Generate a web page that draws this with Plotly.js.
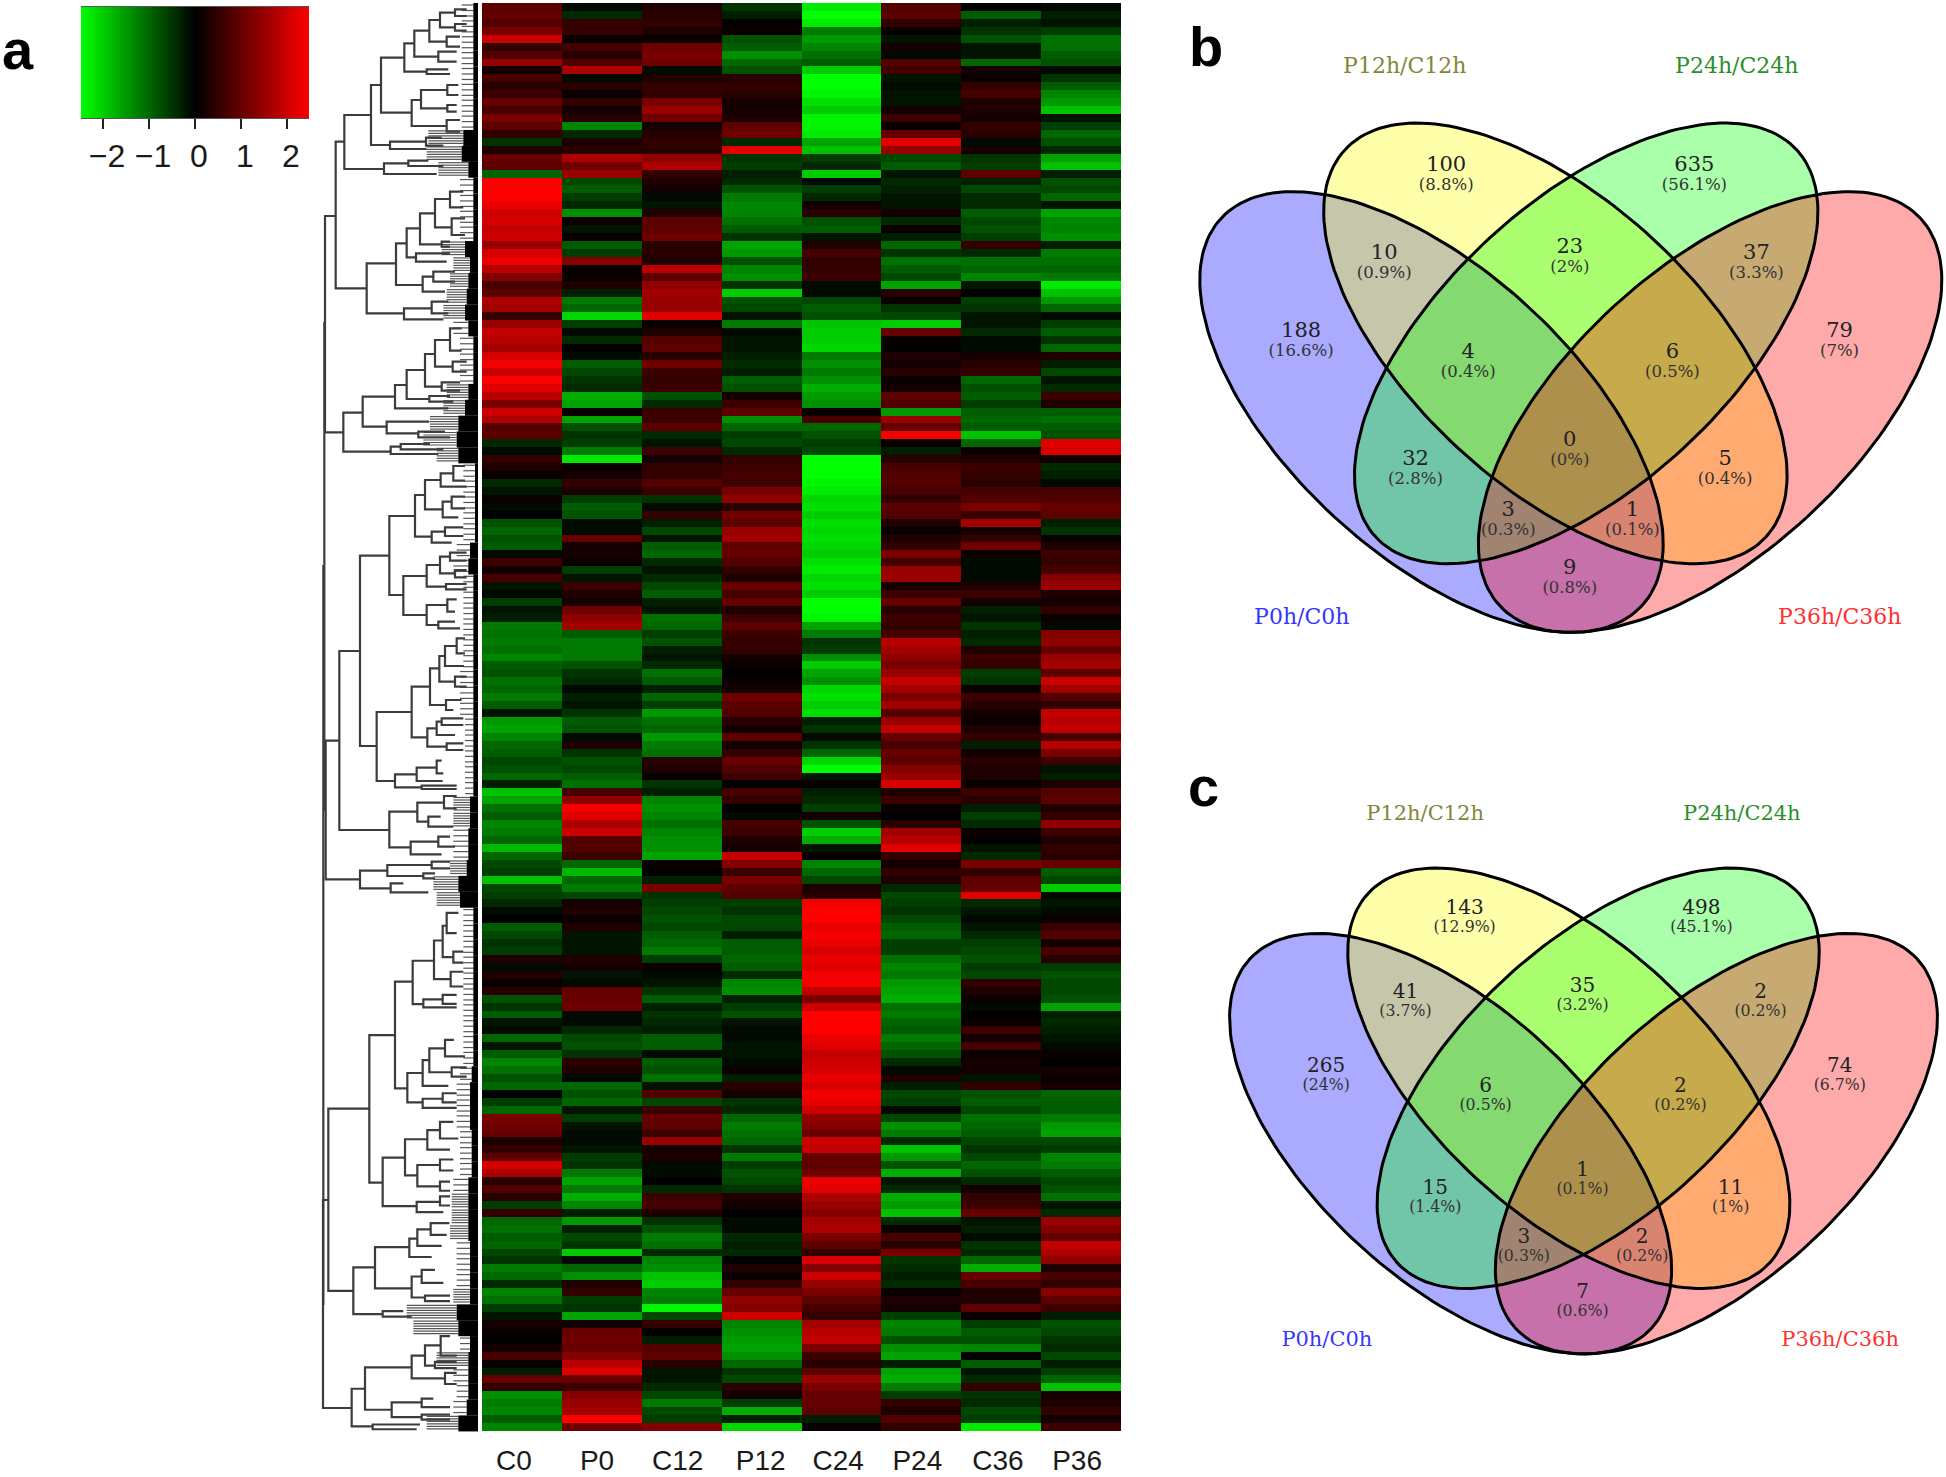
<!DOCTYPE html>
<html><head><meta charset="utf-8">
<script src="https://cdn.plot.ly/plotly-3.0.1.min.js"></script>
<style>html,body{margin:0;padding:0;background:#fff}</style></head>
<body><div id="g" style="width:1946px;height:1477px"></div>
<script>
const samples=['C0','P0','C12','P12','C24','P24','C36','P36'];
const labelNudge=[-.1,-.06,-.05,-.01,-.04,-.05,-.04,-.05];
const C0=[.9,1,.8,1.2,2,.5,.8,1.5,.2,.7,.4,.6,1,.7,1.2,.9,.5,-.5,.3,1,.9,-1,2.5,2.5,2.5,2.3,2,2.1,1.9,2,1.5,2.1,2.3,1.8,1.3,.7,.9,1.7,1.6,.5,1.5,1.9,1.8,1.6,2.1,2.4,2,2.5,2.2,1.8,1.2,2,1.7,.8,.9,-.4,-.1,.5,.3,.1,-.4,-.2,.1,-.1,0,-.8,-1,-.8,-.9,-.1,.6,.2,.7,-.2,-.1,-.6,-.2,-.3,-1.2,-1.1,-1.2,-1.1,-1.3,-.9,-.8,-1.1,-1,-1.2,-.9,-.2,-1.5,-1.6,-1.3,
-1,-.9,-.7,-.8,-1,-.3,-1.9,-1.6,-1.1,-.9,-1.3,-1.2,-1,-1.8,-1,-.7,-.6,-1.9,-.7,-.6,-.4,-.1,0,-.9,-.7,-.5,-.6,.3,-.1,.3,.1,.4,-.8,-.5,-.9,-.2,-.1,-1,-.2,-.9,-1.3,-1.1,-.8,-1,0,-.6,-1,1.2,1.1,1,.3,.5,.9,2.1,1.7,.4,.8,.4,-.6,.5,-1,-1.1,-.9,-1,-.7,-.5,-1.2,-1,-.4,-1.3,-1.1,-.6,-.2,.2,.1,0,.2,.7,.1,-.3,1,.5,-1.4,-1.2,-1.3,-.9,-1.3];
const P0=[-.1,-.4,.5,.5,.1,.7,.4,.8,1.7,-.1,.4,.1,.5,.2,.4,-1.3,-.4,.3,.4,1.7,1.1,1.5,-.7,-.9,-.6,-.4,-1.4,.1,-.2,.1,-.9,-.6,1.3,.1,.1,.3,-.3,-1.2,-1,-2.1,-.6,-.1,-.4,0,-.1,-.9,-.7,-.5,-.4,-1.7,-1.6,.1,-1.6,-.8,-.5,-.6,-1.2,-2.3,.1,.2,.5,.3,-.6,-.9,-.8,-.1,-.1,1,.2,.2,.1,-.6,-.2,.6,.3,.2,1.1,1.4,1.6,-.9,-1.2,-1.2,-1.2,-.8,-.5,-.4,-.1,-.3,-.2,-.5,-.9,-.8,-.1,
.3,-.5,-.8,-.7,-.9,-1.1,.7,1.4,2.4,2.2,1.7,2,.8,.8,.6,-1,-1.8,-1,-1.2,-.7,.2,.3,.1,.3,-.2,-.2,-.2,.3,.2,-.2,-.1,1,1,1.1,-.1,-.1,-.4,-.7,-.8,-.5,.4,.3,-.1,-1,-.8,-1,-.2,-.6,-.2,-.1,-.1,-.2,-.6,-.5,-1.2,-1.6,-1.2,-1.7,-1.3,-.3,-1.5,-.3,-.7,-.5,-2,-.1,-1,-1.4,.3,.5,-.6,-.5,-1.6,.2,1,1.1,1,1.3,1.8,2.2,1,.6,1.3,1.5,1.6,2.5,1.1];
const C12=[.3,.4,.5,.3,.1,1.1,1.2,1.1,-.1,.3,.5,.5,1.2,1.5,1.1,.2,.4,.5,.4,1.4,1.7,.5,.3,.2,-.1,-.2,.3,.9,.9,1.1,.4,.4,.3,1.8,.9,1.4,1.6,1.5,1.5,2.2,.1,.3,.8,.9,.4,1.1,.6,.5,.6,-.8,-.4,.6,.6,.9,-.4,-.2,.6,.2,.5,.5,.8,.6,-.5,-.1,.5,-.3,-.7,-.2,-.9,-1,-.4,-.2,-.4,-.7,-.9,-.3,-.2,-1.1,-1,-.6,-.8,-.3,-.2,-.4,-1.1,-.9,-.3,-1,-.6,-1.5,-1.1,-1,-1.5,
-1.2,-1.1,.4,.3,.1,-.5,-.3,-1.3,-1.4,-1.3,-1.1,-1.3,-1.4,-1.4,-1.6,.1,0,-.3,1.2,-.5,-.6,-.7,-.8,-.7,-.9,-1,-1.2,-.6,.1,-.1,-.2,-.5,-.9,-.3,-.5,-.4,-.3,-.9,-.9,-.1,-.9,-.8,-1.1,-.2,.8,-.7,.6,1,.9,.6,1.5,.2,.3,-.1,-.1,0,-.4,.6,.7,.3,-.5,-.8,-1.2,-1.1,-.4,-1.3,-1.4,-1.9,-2,-1.3,-1.2,-2.4,-.7,.5,0,-.3,.8,.9,.4,-.2,-.2,-.4,-.7,-1.2,-.7,-.6,1.3];
const P12=[-.5,-.3,0,.1,-.8,-.9,-1.4,-1,-.8,.4,.5,.4,.2,.2,.3,.9,1.1,-.4,2.2,-.5,-.6,-.3,-.4,-.8,-1.2,-1.3,-1.3,-1.1,-.9,-.5,-1.6,-1.5,-.8,-1.3,-1.4,-.5,-2,-.8,-.7,-.2,-1.2,-.1,-.2,-.2,-.3,-.4,-.3,-.9,-.8,.2,.6,.9,-1.4,-1,-.6,-.7,-.4,.5,.6,.7,.6,1.2,1.4,.4,1.1,.9,1.5,1.6,.9,1,.8,.5,.3,1,.7,1,.3,.6,.9,.6,.5,.5,.2,.1,0,.1,.2,1.1,.9,.8,.4,.2,.9,
.2,.5,1,.8,.6,0,.7,.5,0,-.1,.7,.6,.3,.2,1.9,1.3,.6,1.2,.9,.8,-.6,-.5,-.7,-.7,-.3,-.9,-.9,-1,-.9,-.4,-1.3,-1.4,-.3,-.6,-.8,-.2,-.1,-.1,-.2,-.2,-.1,.1,-.3,.4,.2,-.5,-.4,-1,-1.2,-1.1,-1,-.5,-1.2,-.6,-.8,-.7,-.5,.3,.2,0,-.1,-.1,-.4,-.3,-.4,0,.3,.1,.5,1,1.4,1.3,2,-1.3,-1.4,-1.5,-1.6,-1.4,-1,-.5,-.7,.4,.2,-.6,-1.7,-.3,-2.1];
const C24=[-2.3,-2.5,-2.3,-1.2,-1.5,-1.3,-1.1,-.9,-2,-2.5,-2.5,-2.4,-2.2,-2,-2.4,-2.4,-2.3,-1.6,-1.9,-.6,-.4,-2,-.1,-.6,-.4,.2,.4,-.8,-.9,-.2,.3,.7,.5,.5,.6,-.1,-.1,-.7,-.9,-.8,-1.9,-2,-2,-2.1,-1.2,-1.4,-1.2,-1.4,-1.7,-1.5,-1.4,.1,.7,-1,-.8,-.6,-.7,-2.5,-2.5,-2.5,-2.4,-2.3,-2.1,-2.2,-2,-2.2,-2.1,-2.2,-2.1,-2,-2.2,-2.3,-2.1,-2.2,-2,-2.5,-2.5,-2.4,-1.6,-1.2,-.5,-.6,-1.4,-2,-1.6,-1.4,-2.1,-2.2,-2,-2.2,-.3,-.5,-.1,
-.5,-1,-2.1,-2.5,-.2,.1,-.3,-.4,-.6,.2,-.8,-2,-1.7,-.2,.1,-1.3,-1,-.7,.3,.4,2.4,2.5,2.5,2.3,2.4,2.3,2.1,2.3,2.2,2.4,2.4,1.9,1.2,2,2.5,2.5,2.5,2.3,2.2,1.9,2,2.1,2.3,2.1,2.4,2.3,2,1.4,1.3,1,2,1.9,1,.9,1.1,2.3,2.2,1.7,1.5,1.3,1.6,1.7,1.2,.9,.5,2.1,1.3,2,1.5,1.2,.9,.7,.5,1.6,1.8,1.9,1.2,.6,.4,.9,1.5,1.2,1,1,.9,-.3,.1];
const P24=[.8,.9,.5,.1,-.2,.2,-.1,.8,.7,-.2,-.1,-.2,-.2,.2,.6,.1,1,2.2,1.5,-.7,-.9,-.2,-.4,-.3,-.2,-.2,.2,-.4,.1,-.3,-1,-.5,-1.1,-.9,-.7,-1.6,.4,.1,-.5,-.7,-2,1,.1,0,.3,.2,.4,.1,.2,.9,.8,-1.5,1.5,1,2.4,.1,-.3,.4,.7,.8,.8,.7,.5,.9,.8,.3,.1,.3,.5,1.2,.7,1.5,1.5,.2,.6,1,.4,.6,.5,.7,1.8,1.6,1.4,1.2,1.5,1.9,1.6,1.2,1.6,.8,1.5,1.9,1,
.7,1,.9,1.3,1.5,2.1,.3,.6,.1,0,.4,1.6,1.8,2.2,.5,.2,.5,.3,-.4,-.7,-.6,-.5,-.7,-.9,-1,-.6,-.6,-1.1,-1.3,-1.2,-1.5,-1.6,-1.7,-1.1,-1.2,-1,-.9,-1.2,-1,-.8,-.4,-.1,.3,-.3,-.7,-.6,-.1,-.7,-1.4,-1.2,-.4,-1.9,-1.5,-.8,-1.7,-.2,-.4,-1.7,-1.5,-1.9,-.4,.1,.7,.4,1.2,-.5,-.4,-.3,-.4,.1,.3,.2,-.6,-1.3,-1.2,-.8,-1.4,-1.6,-.3,-1.6,-1.7,-1.2,-.6,.5,.3,.8,.5];
const C36=[0,-.9,-.3,-.5,-.8,-.2,-.2,-1,.2,.1,.5,.7,.3,.3,.2,.5,.4,-.1,.2,-.5,-.6,.9,-.3,-.7,-.4,-.4,-.9,-.7,-.8,-.6,.5,-.4,-1.1,-1,-1.3,-.2,0,-.6,-.5,-.2,-.2,-.4,-.1,-.1,.2,.4,.5,-1,-.8,-.9,-.6,-.9,-1,-.9,-1.9,-1,.1,.3,.6,.5,.4,.7,.8,1.2,.6,1.6,.2,.5,1.1,.1,-.1,-.1,-.1,.3,.6,.2,-.3,-.2,-.5,-.3,-.4,.3,.6,.5,-.6,-.5,.1,.6,.4,.2,.1,.3,.5,
-.3,.2,.4,.3,.3,.1,.6,.4,-.3,-.6,-.4,.1,0,-.2,-.4,1.2,.5,.9,1,2.2,-.4,-.2,-.1,-.2,-.4,-.6,-.7,-.8,-.6,-.7,.5,.3,.1,-.1,0,.1,.6,.2,.7,.1,.2,.2,-.2,.5,-.8,-.9,-.7,-1.1,-1,-.9,-.7,-.5,-.7,-1,-.8,-.4,.2,.5,.6,1,-.2,-.3,-.1,-.5,-.4,-1,-1.7,1,.7,.3,.3,.9,.1,-.6,-.9,-.8,-1.3,0,-.9,-.2,-.4,.5,-.5,-.4,-.7,-.6,-2.3];
const P36=[-.1,-.3,-.2,-.6,-1.1,-1.1,-.9,-.8,-.1,-.5,-.9,-1.3,-1.5,-1.9,-.2,-.6,-1,-.8,-.4,-1.6,-1.9,-.3,-.8,-.7,-1,-.2,-1.6,-1.3,-1.3,-1.4,-.3,-1.2,-1.1,-1,-1.2,-2.3,-1.9,-1.5,-1,-.1,-.6,-.9,-.5,-1,.3,-.3,-.7,-.2,-.4,.6,.3,-.9,-1.1,-.9,-.8,2.2,2.1,.2,-.4,-.3,-.1,.7,.8,1,.9,-.3,-.5,.1,.3,.6,.5,.7,1.3,1.5,.3,.2,.5,.1,-.1,1.3,1.4,1,1.5,1.6,.9,2,1.6,.8,.5,1.9,1.8,1.9,.7,
1.8,1.2,.6,-.2,-.3,.3,.8,.9,.3,.5,1.4,.6,.3,.5,.4,1,-.9,-.7,-2,-.1,-.2,-.1,.1,.6,.8,.2,.7,.4,-.6,-.8,-.7,-.7,-.8,-1.6,-.3,-.4,-.3,-.2,-.1,.1,0,.2,.1,.2,-1,-.9,-.9,-1.2,-1.5,-1.6,-.7,-.6,-1.3,-1.2,-.9,-.7,-.8,-1.1,-.2,-.4,1.5,1.3,1,1.9,1.7,1.4,.3,.7,.5,1.3,.9,.6,-.3,-.8,-.7,-.5,-.4,-.7,-.3,-.6,-1,-1.9,.2,.3,.5,.2,.6];
const keyValues=[-2.48,-2.33,-2.18,-2.03,-1.88,-1.73,-1.58,-1.43,-1.28,-1.13,-.98,-.83,-.68,-.53,-.38,-.23,-.08,.08,.23,.38,.53,.68,.83,.98,1.13,1.28,1.43,1.58,1.73,1.88,2.03,2.18,2.33,2.48];
const keyTicks=[-2,-1,0,1,2];

// dendrogram merges: [height, yTop, yBottom, childHeightTop, childHeightBottom]
const branchesTop=[[45,648,1297,77,100],[77,425,865,103,170],[103,345,507,183,222],[183,255,435,213,240],[213,173,338,283,305],[283,130,215,313,350],[313,92,170,358,385],[358,60,125,390,410],[390,38,82,435,435],[435,28,48,470,470],[435,72,92,470,470],[410,110,140,450,450],[385,155,185,440,440],[350,208,222,415,420],[305,300,378,333,410],[333,270,325,412,412],[412,255,285,445,445],[412,315,335,440,440],[410,360,395,450,450],[240,425,447,348,350],[348,413,437,395,400],[222,490,522,295,380],[295,482,498,355,400],
[170,790,940,258,282],[258,730,855,290,338],[290,685,772,330,318],[330,640,733,375,395],[375,597,682,420,425],[420,575,622,460,460],[425,655,705,465,465],[395,725,740,420,420],[318,760,785,420,410],[338,830,875,370,405],[370,815,845,435,435],[282,925,958,365,400],[365,905,940,415,415],
[100,1238,1355,158,242],[158,1190,1280,255,230],[255,1155,1225,290,415],[290,1110,1197,345,358],[345,1062,1160,375,395],[375,1020,1100,420,428],[420,985,1052,455,455],[428,1085,1115,470,470],[395,1147,1172,450,450],[358,1188,1205,420,430],[230,1265,1300,358,325],[325,1295,1312,405,420],[242,1340,1362,272,385],[272,1332,1348,360,400]];
const branchesMid=[[47,902,1318,88,150],[88,633,1170,150,238],[150,347,918,238,200],[238,228,465,315,280],[315,165,290,345,365],[345,120,208,392,398],[392,100,140,430,470],[430,78,122,465,465],[398,185,232,425,445],[425,170,205,465,465],[365,275,308,405,425],[405,262,288,460,460],[280,408,525,350,350],[350,375,440,390,408],[390,350,400,420,435],[420,338,362,470,470],[435,390,412,470,470],[408,432,448,470,470],[350,495,555,412,385],[412,478,515,440,435],[385,545,565,435,450],
[200,816,1023,305,255],[305,740,892,360,352],[360,685,795,388,408],[388,648,725,405,435],[405,618,678,440,462],[440,595,640,465,465],[435,710,740,470,470],[408,780,810,455,430],[352,865,920,380,410],[380,845,885,395,435],[395,835,855,460,460],[410,910,930,460,460],[255,1003,1042,320,335],[320,983,1023,380,398],[380,962,1000,395,400],[335,1037,1047,440,440],
[238,1115,1222,322,302],[322,1088,1145,402,355],[402,1068,1105,440,440],[355,1130,1160,392,430],[302,1205,1243,385,395],[385,1190,1220,420,435],[150,1292,1345,232,242],[232,1275,1308,365,340],[365,1265,1285,420,420],[340,1300,1315,375,375],[242,1330,1357,280,355]];
const branchesLow=[[55,567,1062,178,130],[178,367,768,255,218],[255,222,512,308,292],[308,165,283,372,340],[372,110,215,398,422],[398,70,155,410,430],[410,35,90,445,440],[422,195,235,460,460],[430,140,170,460,460],[340,270,292,398,440],[398,258,282,440,440],[292,470,550,338,338],[338,435,505,358,415],[358,403,468,405,425],[405,380,425,432,465],[425,455,480,470,470],[338,540,565,398,440],[398,525,550,440,440],
[218,700,832,285,320],[285,650,748,352,322],[352,625,678,390,420],[390,603,648,430,445],[322,720,778,390,390],[390,705,735,430,430],[390,765,790,420,420],[320,820,848,390,400],[390,805,830,420,420],
[130,998,1125,195,218],[195,943,1055,298,305],[298,920,970,322,365],[322,895,940,362,395],[362,878,910,418,410],[305,1023,1080,335,345],[335,1005,1040,375,400],[345,1075,1090,420,420],[218,1117,1132,280,305],
[125,1328,1430,165,188],[165,1270,1385,305,245],[305,1238,1300,345,405],[345,1210,1265,392,375],[392,1185,1238,420,440],[375,1255,1272,440,440],[405,1285,1315,440,440],[245,1365,1405,335,335],[335,1355,1378,370,420],[335,1398,1412,420,420],[188,1425,1438,330,320]];
const branchesRoot=[[43,323,810,45,47],[39,1200,1408,55,125],[40,566,1304,43,39]];
const leafSolidStart=[490,490,490,490,490,490,490,490,460,455,475,490,490,490,490,465,480,475,470,465,475,490,490,490,475,465,445,440,445,495,495,495,495,495,480,475,490,490,490,490,490,490,490,490,490,490,490,490,490,490,480,480,475,475,470,445,450,490,490,490,490,490,490,490,490,490,490,485,480,480,480,485,485,485,475,475,475,475,480,480,480,480,440,445,480,475,475,475,470,445];
const leafHatchStart=[455,455,455,455,455,455,455,455,355,350,385,450,450,450,450,395,430,420,410,400,430,450,450,450,410,400,360,340,380,460,460,460,460,460,440,430,460,460,460,460,460,460,450,450,450,465,465,465,465,465,430,430,430,430,420,370,380,460,460,460,460,460,460,460,460,460,460,450,440,440,440,450,450,450,430,425,425,420,440,440,440,430,290,310,450,380,430,440,430,350];

// venn
const vennCenters=[[-139.3,289.6],[-15.4,221],[15.4,221],[139.3,289.6]];
const vennAngles=[42.6,42.6,-42.6,-42.6];
const vennAxes=[286,143];
const vennFill=['rgba(0,0,255,.333)','rgba(255,255,0,.333)','rgba(0,255,0,.333)','rgba(255,0,0,.333)'];
const setNames=['P0h/C0h','P12h/C12h','P24h/C24h','P36h/C36h'];
const setColors=['#3636ff','#85853a','#2a8f2a','#ff3030'];
const setU=[-269,-166,166,269],setV=[496,-55,-55,496];
const regionU=[-124.6,123.6,-186.6,-1,185.6,-269.7,268.7,-102.6,101.6,-1,-155.3,154.3,-62.5,61.6,-1];
const regionV=[43.6,43.6,131.5,125.7,131.5,209.5,209.5,230.3,230.3,318.3,337.3,337.3,388,388,446];
const countsB=['100','635','10','23','37','188','79','4','6','0','32','5','3','1','9'];
const pctB=['8.8%','56.1%','0.9%','2%','3.3%','16.6%','7%','0.4%','0.5%','0%','2.8%','0.4%','0.3%','0.1%','0.8%'];
const countsC=['143','498','41','35','2','265','74','6','2','1','15','11','3','2','7'];
const pctC=['12.9%','45.1%','3.7%','3.2%','0.2%','24%','6.7%','0.5%','0.2%','0.1%','1.4%','1%','0.3%','0.2%','0.6%'];

const W=1946,H=1477;
const dx=p=>[p[0]/W,p[1]/W], dy=(top,bot)=>[1-bot/H,1-top/H];
const cols=[C0,P0,C12,P12,C24,P24,C36,P36];
const z=[];for(let r=0;r<180;r++){z.push(cols.map(c=>c[r]));}
const greenBlackRed=[[0,'#00ff00'],[.5,'#000000'],[1,'#ff0000']];
const traces=[];
traces.push({type:'heatmap',z:z,x:samples.map((s,i)=>i),zmin:-2.5,zmax:2.5,colorscale:greenBlackRed,showscale:false,xaxis:'x',yaxis:'y',hoverinfo:'skip'});
traces.push({type:'heatmap',z:[keyValues],x:keyValues,zmin:-2.5,zmax:2.5,colorscale:greenBlackRed,showscale:false,zsmooth:'best',xaxis:'x2',yaxis:'y2',hoverinfo:'skip'});

// dendrogram through its own axes (x3,y3)
const hx=X=>310+X/3;
const lx=[],ly=[];
const addBranches=(list,toY)=>list.forEach(b=>{const [h,a,c,ha,hc]=b;
  lx.push(hx(ha),hx(h),hx(h),hx(hc),null);ly.push(toY(a),toY(a),toY(c),toY(c),null);});
addBranches(branchesTop,Y=>Y/3);addBranches(branchesMid,Y=>440+Y/3);addBranches(branchesLow,Y=>900+Y/2.717);addBranches(branchesRoot,Y=>Y);
const hatchX=[],hatchY=[],solidX=[],solidY=[];
leafSolidStart.forEach((s,i)=>{const y=3+i*15.87;
  const offs=(s-leafHatchStart[i]>45)?[1,3.5,6,8.5,11,13.5]:[2,7.5,13];
  offs.forEach(o=>{hatchX.push(hx(leafHatchStart[i]),hx(s),null);hatchY.push(y+o,y+o,null);});
  solidX.push(hx(s),478,null);solidY.push(y+8,y+8,null);});
traces.push({type:'scatter',mode:'lines',x:hatchX,y:hatchY,line:{color:'#555',width:1.2},xaxis:'x3',yaxis:'y3',hoverinfo:'skip',showlegend:false});
traces.push({type:'scatter',mode:'lines',x:lx,y:ly,line:{color:'#3c3c3c',width:2.2},xaxis:'x3',yaxis:'y3',hoverinfo:'skip',showlegend:false});
traces.push({type:'scatter',mode:'lines',x:solidX,y:solidY,line:{color:'#000',width:16},xaxis:'x3',yaxis:'y3',hoverinfo:'skip',showlegend:false});

function venn(xa,ya,counts,pct,scale){
  const outlines=[];
  vennCenters.forEach((c,k)=>{const th=vennAngles[k]*Math.PI/180,xs=[],ys=[];
    for(let t=0;t<=180;t++){const f=t/180*2*Math.PI,p=vennAxes[0]*Math.cos(f),q=vennAxes[1]*Math.sin(f);
      xs.push(c[0]+p*Math.cos(th)-q*Math.sin(th));ys.push(c[1]+p*Math.sin(th)+q*Math.cos(th));}
    traces.push({type:'scatter',mode:'lines',x:xs,y:ys,fill:'toself',fillcolor:vennFill[k],line:{color:'rgba(0,0,0,0)',width:0},xaxis:xa,yaxis:ya,hoverinfo:'skip',showlegend:false});
    outlines.push({type:'scatter',mode:'lines',x:xs,y:ys,line:{color:'#000',width:3},xaxis:xa,yaxis:ya,hoverinfo:'skip',showlegend:false});
  });
  outlines.forEach(o=>traces.push(o));
  traces.push({type:'scatter',mode:'text',x:regionU,y:regionV,text:counts,textposition:'middle center',textfont:{family:'DejaVu Serif',size:21*scale,color:'#222'},xaxis:xa,yaxis:ya,hoverinfo:'skip',showlegend:false});
  traces.push({type:'scatter',mode:'text',x:regionU,y:regionV.map(v=>v+20),text:pct.map(p=>'('+p+')'),textposition:'middle center',textfont:{family:'DejaVu Serif',size:16.5*scale,color:'#333'},xaxis:xa,yaxis:ya,hoverinfo:'skip',showlegend:false});
  traces.push({type:'scatter',mode:'text',x:setU,y:setV,text:setNames,textposition:'middle center',textfont:{family:'DejaVu Serif',size:22*scale,color:setColors},xaxis:xa,yaxis:ya,hoverinfo:'skip',showlegend:false});
}
venn('x4','y4',countsB,pctB,1);
venn('x5','y5',countsC,pctC,.954);

const layout={width:W,height:H,margin:{l:0,r:0,t:0,b:0},paper_bgcolor:'#fff',plot_bgcolor:'rgba(0,0,0,0)',showlegend:false,
 xaxis:{domain:dx([482,1121]),range:[-.5,7.5],tickmode:'array',tickvals:samples.map((s,i)=>i+labelNudge[i]),ticktext:samples,ticks:'outside',ticklen:4,tickcolor:'rgba(0,0,0,0)',showgrid:false,zeroline:false,tickfont:{family:'Liberation Sans',size:28,color:'#1a1a1a'},showline:false,anchor:'y'},
 yaxis:{domain:dy(3,1431),range:[179.5,-.5],visible:false,anchor:'x'},
 xaxis2:{domain:dx([81,309]),range:[-2.48,2.48],tickmode:'array',tickvals:keyTicks,ticks:'outside',ticklen:10,tickwidth:2,tickcolor:'#222',ticklabelshift:4,showgrid:false,zeroline:false,showline:true,linecolor:'#555',mirror:true,tickfont:{family:'Liberation Sans',size:32,color:'#1a1a1a'},anchor:'y2'},
 yaxis2:{domain:dy(7,118),range:[-.5,.5],visible:false,anchor:'x2'},
 xaxis3:{domain:dx([310,480]),range:[310,480],visible:false,anchor:'y3'},
 yaxis3:{domain:[0,1],range:[H,0],visible:false,anchor:'x3'},
 xaxis4:{domain:dx([1570.8-390,1570.8+375]),range:[-390,375],visible:false,anchor:'y4'},
 yaxis4:{domain:dy(122.4-100,122.4+540),range:[540,-100],visible:false,anchor:'x4'},
 xaxis5:{domain:dx([1583.5-385*.954,1583.5+380*.954]),range:[-385,380],visible:false,anchor:'y5'},
 yaxis5:{domain:dy(867.4-100*.954,867.4+540*.954),range:[540,-100],visible:false,anchor:'x5'},
 annotations:[['a',1,82],['b',1188,79],['c',1187,819]].map(a=>({text:'<b>'+a[0]+'</b>',xref:'paper',yref:'paper',x:a[1]/W,y:1-a[2]/H,xanchor:'left',yanchor:'bottom',showarrow:false,borderpad:0,font:{family:'Liberation Sans',size:56,color:'#000'}}))
};
Plotly.newPlot('g',traces,layout,{displayModeBar:false,staticPlot:true});
</script></body></html>
